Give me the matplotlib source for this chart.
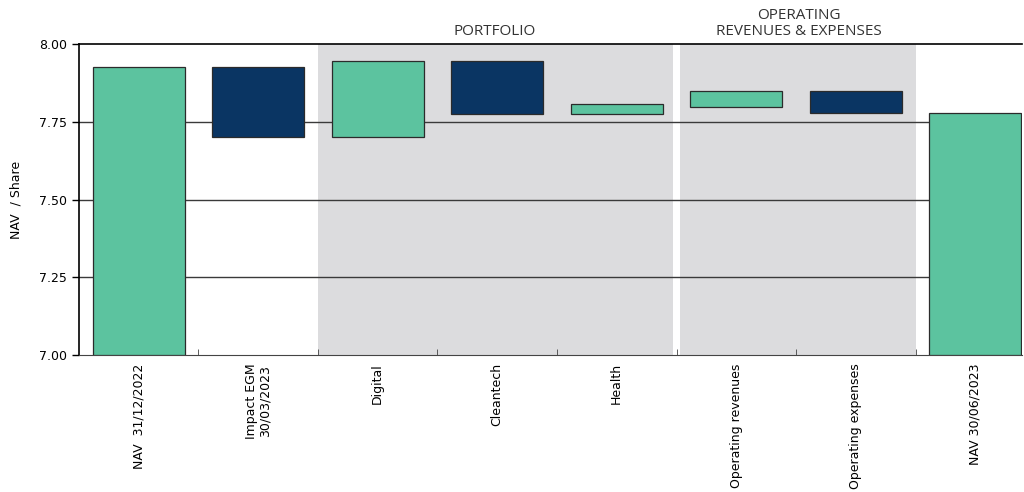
import matplotlib
matplotlib.use("Agg")
import numpy as np
import matplotlib.pyplot as plt

# data
categories = ['NAV  31/12/2022', 'Impact EGM\n30/03/2023', 'Digital', 'Cleantech', 'Health',
              'Operating revenues', 'Operating expenses', 'NAV 30/06/2023']
bar_bottom = [7.00, 7.70, 7.70, 7.775, 7.775, 7.797, 7.779, 7.00]
bar_top = [7.926, 7.926, 7.945, 7.945, 7.806, 7.848, 7.848, 7.779]
bar_kind = ['total', 'down', 'up', 'down', 'up', 'up', 'down', 'total']
yticks = [7.00, 7.25, 7.50, 7.75, 8.00]

green = '#5cc39f'
navy = '#0a3563'
shade = '#dcdcde'
colors = {'total': green, 'up': green, 'down': navy}

plt.rcParams['font.family'] = ['DejaVu Sans']
fig = plt.figure(figsize=(10.24, 4.92), dpi=100)
ax = fig.add_axes([0.077, 0.2785, 0.921, 0.632])

x = np.arange(len(categories))
heights = [t - b for t, b in zip(bar_top, bar_bottom)]
ax.bar(x, heights, bottom=bar_bottom, width=0.77,
       color=[colors[k] for k in bar_kind], edgecolor='#2b2b2b', linewidth=0.9, zorder=3)

# grey group backgrounds
ax.axvspan(1.5, 4.47, color=shade, zorder=0, lw=0)
ax.axvspan(4.53, 6.5, color=shade, zorder=0, lw=0)

# horizontal grid lines
for y in yticks[1:-1]:
    ax.axhline(y, color='#3a3a3a', lw=1.0, zorder=1)

ax.set_xlim(-0.5, 7.39)
ax.set_ylim(7.0, 8.0)
ax.set_yticks(yticks)
ax.set_yticklabels(['%.2f' % v for v in yticks], fontsize=9)
ax.set_ylabel('NAV  / Share', fontsize=9, labelpad=12)

ax.set_xticks(x)
ax.set_xticklabels(categories, rotation=90, fontsize=9, va='top', ha='center',
                   linespacing=1.0)
ax.tick_params(axis='x', length=0, pad=6)
ax.set_xticks(np.arange(0.5, 7, 1), minor=True)
ax.tick_params(axis='x', which='minor', direction='in', length=4, color='#444')
ax.tick_params(axis='y', direction='out', length=5, width=1)

for s in ['top', 'left']:
    ax.spines[s].set_color('black')
    ax.spines[s].set_linewidth(1.2)
ax.spines['bottom'].set_color('#444')
ax.spines['right'].set_visible(False)

ax.text(2.98, 8.015, 'PORTFOLIO', ha='center', va='bottom', fontsize=11,
        color='#333333', family='Open Sans')
ax.text(5.52, 8.015, 'OPERATING\nREVENUES & EXPENSES', ha='center', va='bottom',
        fontsize=11, color='#333333', family='Open Sans', linespacing=1.15)

fig.savefig('out.png', dpi=100)
